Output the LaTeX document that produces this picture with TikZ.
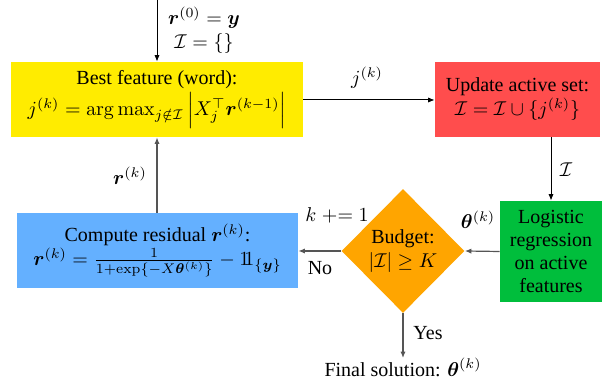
\documentclass[tikz,border=0pt]{standalone}
\usepackage{amsmath,amssymb,bm}
\usepackage[no-math]{fontspec}
\setmainfont{Liberation Serif}
\usetikzlibrary{shapes.geometric,arrows.meta,positioning}
\newcommand{\indic}{\mathrm{1\mkern-4.5mu1}}
\definecolor{cyellow}{RGB}{255,236,0}
\definecolor{cred}{RGB}{255,77,77}
\definecolor{cblue}{RGB}{100,176,255}
\definecolor{cgreen}{RGB}{0,190,60}
\definecolor{corange}{RGB}{255,165,0}
\definecolor{cgray}{RGB}{85,85,85}
\tikzset{
  boxnode/.style={rectangle, inner sep=0pt, align=center, font=\fontsize{10}{12}\selectfont},
  arr/.style={-{Latex[length=3.2pt,width=2.6pt]}, line width=0.5pt, black},
  garr/.style={-{Latex[length=3.2pt,width=2.6pt]}, line width=0.6pt, cgray},
  lbl/.style={inner sep=0pt, align=center, font=\fontsize{10}{12}\selectfont}
}
\begin{document}
\begin{tikzpicture}[x=0.5pt,y=-0.5pt]
\useasboundingbox (0,0) rectangle (605,383);
\node[boxnode, fill=cyellow, minimum width=146pt, minimum height=37.5pt] (best) at (157,99.5)
  {Best feature (word):\\[1pt]$j^{(k)} = \arg\max_{j\notin\mathcal{I}} \Big| X_j^\top \bm{r}^{(k-1)} \Big|$};
\node[boxnode, fill=cred, minimum width=82.5pt, minimum height=37.5pt] (upd) at (517.5,99.5)
  {Update active set:\\$\mathcal{I} = \mathcal{I} \cup \{j^{(k)}\}$};
\node[boxnode, fill=cgreen, minimum width=51pt, minimum height=50.5pt, font=\fontsize{10}{11.5}\selectfont] (logit) at (551,251.5)
  {Logistic\\regression\\on active\\features};
\node[diamond, fill=corange, inner sep=0pt, minimum width=61.5pt, minimum height=62pt, align=center, font=\fontsize{10}{12}\selectfont] (budget) at (403,251)
  {Budget:\\$|\mathcal{I}| \geq K$};
\node[boxnode, fill=cblue, minimum width=140.5pt, minimum height=37.5pt] (resid) at (157.5,250.5)
  {Compute residual $\bm{r}^{(k)}$:\\$\bm{r}^{(k)} = \frac{1}{1+\exp\{-X\bm{\theta}^{(k)}\}} - \indic_{\{\bm{y}\}}$};
\node[lbl, anchor=north] (final) at (403,358) {Final solution: $\bm{\theta}^{(k)}$};
\coordinate (start) at (157,0);

\draw[arr] (start) -- (best.north);
\node[lbl] (init) at (204,30) {$\bm{r}^{(0)} = \bm{y}$\\$\mathcal{I} = \{\}$};
\draw[arr] (best.east |- 0,100) -- (upd.west |- 0,100);
\node[lbl] (jk) at (367,78) {$j^{(k)}$};
\draw[arr] (logit.north |- upd.south) -- (logit.north);
\node[lbl] (setI) at (566,170) {$\mathcal{I}$};
\draw[garr] (logit.west) -- (budget.east);
\node[lbl] (thk) at (478,220) {$\bm{\theta}^{(k)}$};
\draw[garr] (budget.west) -- (resid.east |- budget.west);
\node[lbl] (kinc) at (337,215) {$k \mathrel{+}= 1$};
\node[lbl] (no) at (320,268) {No};
\draw[garr] (budget.south) -- (final.north);
\node[lbl] (yes) at (428,333) {Yes};
\draw[garr] (resid.north -| best.south) -- (best.south);
\node[lbl] (rk) at (130,176) {$\bm{r}^{(k)}$};
\end{tikzpicture}
\end{document}
